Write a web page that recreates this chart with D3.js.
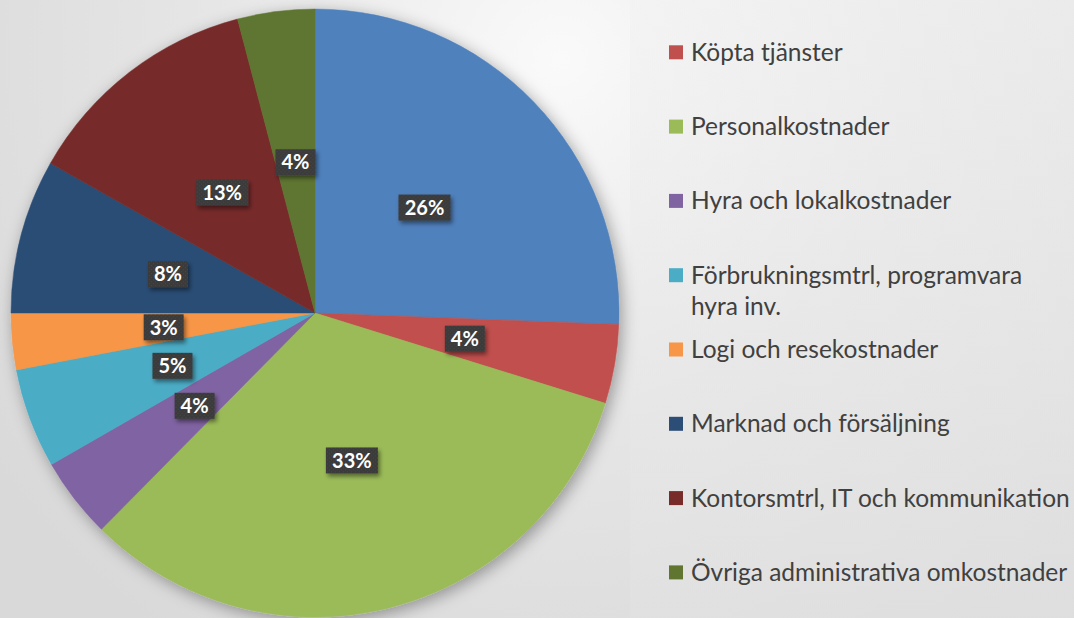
<!DOCTYPE html>
<html>
<head>
<meta charset="utf-8">
<script src="https://cdn.jsdelivr.net/npm/d3@7"></script>
<style>
  body { margin: 0; overflow: hidden; background: #e6e6e6; }
  svg { display: block; }
</style>
</head>
<body>
<div id="chart"></div>
<script>
var svgWidth = 1074;
var svgHeight = 618;

// slices clockwise from 12 o'clock (first one is not shown in the visible legend)
var categories = [
    "Övrigt",
    "Köpta tjänster",
    "Personalkostnader",
    "Hyra och lokalkostnader",
    "Förbrukningsmtrl, programvara hyra inv.",
    "Logi och resekostnader",
    "Marknad och försäljning",
    "Kontorsmtrl, IT och kommunikation",
    "Övriga administrativa omkostnader"
];
var values = [25.6, 4.2, 32.6, 4.3, 5.3, 3.0, 8.2, 12.7, 4.1];
var labels = ["26%", "4%", "33%", "4%", "5%", "3%", "8%", "13%", "4%"];
var colors = ["#4f81bd", "#c0504d", "#9bbb59", "#8064a2", "#4bacc6",
              "#f79646", "#2c4d75", "#772c2a", "#5f7530"];
// legend lines (the first category sits above the visible area)
var legendLines = [
    null,
    ["Köpta tjänster"],
    ["Personalkostnader"],
    ["Hyra och lokalkostnader"],
    ["Förbrukningsmtrl, programvara", "hyra inv."],
    ["Logi och resekostnader"],
    ["Marknad och försäljning"],
    ["Kontorsmtrl, IT och kommunikation"],
    ["Övriga administrativa omkostnader"]
];

var cx = 315, cy = 313, radius = 304;

var svg = d3.select("#chart")
    .append("svg")
    .attr("width", svgWidth)
    .attr("height", svgHeight);

var defs = svg.append("defs");

// background gradients
var bg = defs.append("radialGradient")
    .attr("id", "bg")
    .attr("gradientUnits", "userSpaceOnUse")
    .attr("cx", 560).attr("cy", 60).attr("r", 700);
bg.append("stop").attr("offset", "0").attr("stop-color", "#fafafa");
bg.append("stop").attr("offset", "0.5").attr("stop-color", "#e6e6e6");
bg.append("stop").attr("offset", "1").attr("stop-color", "#d9d9d9");

var bg2 = defs.append("linearGradient")
    .attr("id", "bg2")
    .attr("x1", 0).attr("y1", 0).attr("x2", 0).attr("y2", 1);
bg2.append("stop").attr("offset", "0").attr("stop-color", "#f2f2f2");
bg2.append("stop").attr("offset", "1").attr("stop-color", "#e2e2e2");

// shadows
var pieShadow = defs.append("filter").attr("id", "pieShadow")
    .attr("x", "-20%").attr("y", "-20%").attr("width", "140%").attr("height", "140%");
pieShadow.append("feDropShadow")
    .attr("dx", 3).attr("dy", 4).attr("stdDeviation", 8)
    .attr("flood-color", "#000").attr("flood-opacity", 0.35);

var boxShadow = defs.append("filter").attr("id", "boxShadow")
    .attr("x", "-30%").attr("y", "-30%").attr("width", "170%").attr("height", "170%");
boxShadow.append("feDropShadow")
    .attr("dx", 2).attr("dy", 3).attr("stdDeviation", 2)
    .attr("flood-color", "#000").attr("flood-opacity", 0.45);

// dotted texture for the label boxes
var pat = defs.append("pattern")
    .attr("id", "dots")
    .attr("width", 4).attr("height", 4)
    .attr("patternUnits", "userSpaceOnUse");
pat.append("rect").attr("width", 4).attr("height", 4).attr("fill", "#3a3a3a");
pat.append("rect").attr("x", 1).attr("y", 1).attr("width", 1).attr("height", 1).attr("fill", "#4a4a4a");
pat.append("rect").attr("x", 3).attr("y", 3).attr("width", 1).attr("height", 1).attr("fill", "#4a4a4a");

svg.append("rect")
    .attr("width", svgWidth).attr("height", svgHeight)
    .attr("fill", "url(#bg)");
svg.append("rect")
    .attr("x", 630).attr("width", svgWidth - 630).attr("height", svgHeight)
    .attr("fill", "url(#bg2)").attr("opacity", 0.6);

var pie = d3.pie().sort(null).value(d => d);
var arc = d3.arc().innerRadius(0).outerRadius(radius);
var arcs = pie(values);

var pieGroup = svg.append("g")
    .attr("transform", `translate(${cx}, ${cy})`);

pieGroup.append("g")
    .attr("filter", "url(#pieShadow)")
    .selectAll("path")
    .data(arcs)
    .enter()
    .append("path")
    .attr("d", arc)
    .attr("fill", (d, i) => colors[i])
    .attr("stroke", (d, i) => colors[i])
    .attr("stroke-width", 0.5);

// data labels
var labelGroup = pieGroup.selectAll("g.lbl")
    .data(arcs)
    .enter()
    .append("g")
    .attr("class", "lbl")
    .attr("transform", d => `translate(${arc.centroid(d)})`);

labelGroup.append("rect")
    .attr("x", (d, i) => labels[i].length > 2 ? -26 : -20)
    .attr("y", -13)
    .attr("width", (d, i) => labels[i].length > 2 ? 52 : 40)
    .attr("height", 26)
    .attr("fill", "url(#dots)")
    .attr("filter", "url(#boxShadow)");

labelGroup.append("text")
    .attr("text-anchor", "middle")
    .attr("dy", "0.36em")
    .attr("fill", "#ffffff")
    .attr("font-family", "Lato, 'Open Sans', sans-serif")
    .attr("font-weight", "bold")
    .attr("font-size", 20)
    .text((d, i) => labels[i]);

// legend
var legendX = 669, legendTop = -22, legendStep = 74.3;
var legend = svg.append("g");
legendLines.forEach(function(lines, i) {
    if (!lines) return;
    var y = legendTop + i * legendStep;
    var item = legend.append("g").attr("transform", `translate(${legendX}, ${y})`);
    item.append("rect")
        .attr("x", 0).attr("y", -7)
        .attr("width", 14).attr("height", 14)
        .attr("fill", colors[i]);
    var t = item.append("text")
        .attr("x", 22)
        .attr("y", 0)
        .attr("fill", "#404040")
        .attr("font-family", "Lato, 'Open Sans', sans-serif")
        .attr("font-size", 24.5);
    lines.forEach(function(line, j) {
        t.append("tspan")
            .attr("x", 22)
            .attr("dy", j === 0 ? "0.35em" : 31)
            .text(line);
    });
});
</script>
</body>
</html>
